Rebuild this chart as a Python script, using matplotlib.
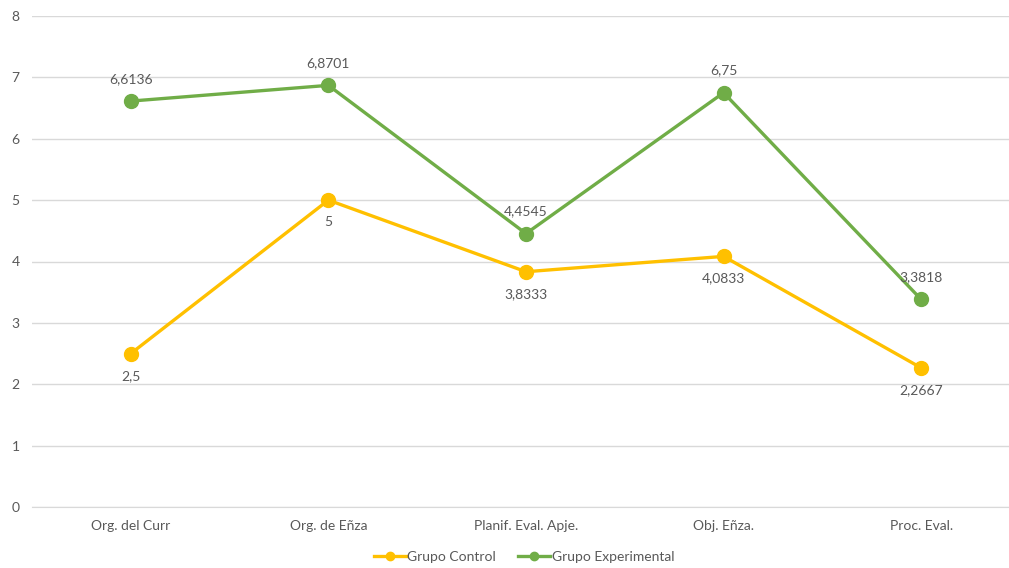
import matplotlib
matplotlib.use("Agg")
import matplotlib.pyplot as plt
from matplotlib.lines import Line2D

plt.rcParams['font.family'] = ['Lato', 'DejaVu Sans']

categories = ["Org. del Curr", "Org. de Eñza", "Planif. Eval. Apje.", "Obj. Eñza.", "Proc. Eval."]
grupo_control = [2.5, 5, 3.8333, 4.0833, 2.2667]
grupo_experimental = [6.6136, 6.8701, 4.4545, 6.75, 3.3818]
y_ticks = [0, 1, 2, 3, 4, 5, 6, 7, 8]

YELLOW = "#FFC000"
GREEN = "#70AD47"
TEXT = "#595959"
GRID = "#D9D9D9"

def fmt(v):
    s = f"{v:.4f}".rstrip("0").rstrip(".")
    return s.replace(".", ",")

fig = plt.figure(figsize=(10.09, 5.68), dpi=100)
ax = fig.add_axes([32 / 1009, 61 / 568, (1009 - 32) / 1009, 491 / 568])

x = list(range(len(categories)))
ax.plot(x, grupo_control, color=YELLOW, lw=2.4, marker="o", ms=10, zorder=3,
        solid_capstyle="round")
ax.plot(x, grupo_experimental, color=GREEN, lw=2.4, marker="o", ms=10, zorder=3,
        solid_capstyle="round")

for xi, v in zip(x, grupo_control):
    ax.annotate(fmt(v), (xi, v), xytext=(0, -16), textcoords="offset points",
                ha="center", va="center", fontsize=10, color=TEXT)
for xi, v in zip(x, grupo_experimental):
    ax.annotate(fmt(v), (xi, v), xytext=(0, 16), textcoords="offset points",
                ha="center", va="center", fontsize=10, color=TEXT)

ax.set_ylim(0, 8)
ax.set_xlim(-0.5, 4.5 - 11 / 198)
ax.set_yticks(y_ticks)
ax.set_yticklabels([str(t) for t in y_ticks])
ax.set_xticks(x)
ax.set_xticklabels(categories)
ax.tick_params(axis="both", length=0, colors=TEXT, labelsize=10)
ax.tick_params(axis="y", pad=9)
ax.tick_params(axis="x", pad=9)
ax.grid(axis="y", color=GRID, lw=1)
ax.set_axisbelow(True)
for side in ["left", "right", "top"]:
    ax.spines[side].set_visible(False)
ax.spines["bottom"].set_color(GRID)

handles = [
    Line2D([], [], color=YELLOW, lw=2.4, marker="o", ms=6),
    Line2D([], [], color=GREEN, lw=2.4, marker="o", ms=6),
]
fig.legend(handles, ["Grupo Control", "Grupo Experimental"], loc="center",
           bbox_to_anchor=(524 / 1009, 1 - 557 / 568), ncol=2, frameon=False,
           fontsize=10, labelcolor=TEXT, handlelength=2.3, handletextpad=0.1,
           columnspacing=1.6)

fig.savefig("out.png", dpi=100)
